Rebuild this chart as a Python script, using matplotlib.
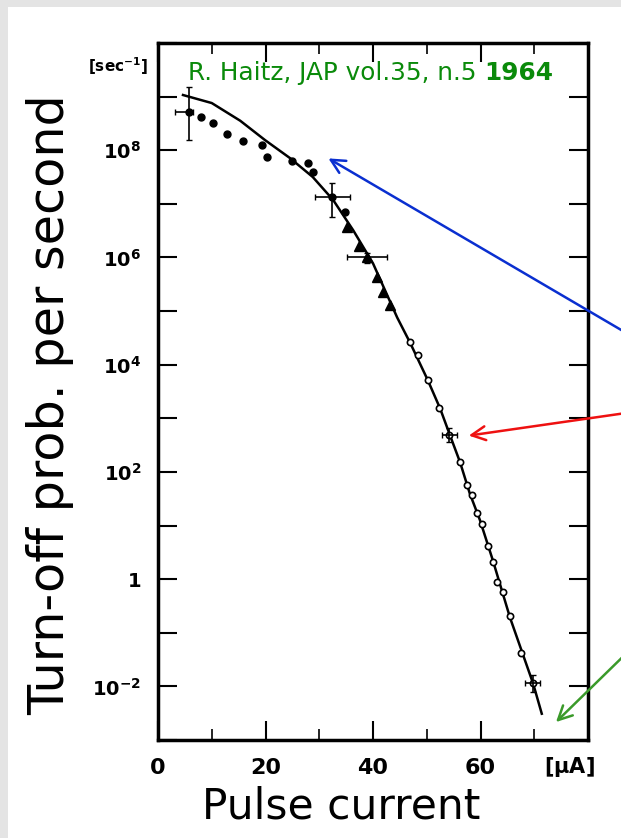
import numpy as np
from matplotlib import pyplot as plt
from matplotlib.patches import Rectangle

# theory curve (log10 of rate)
curve_x = [4.65, 10.0, 15.3, 19.9, 24.6, 28.8, 32.6, 36.3, 40.0, 44.5, 46.9,
           50.2, 52.5, 54.3, 56.2, 58.0, 59.9, 62.3, 65.5, 69.8, 71.4]
curve_log = [9.03, 8.88, 8.55, 8.19, 7.85, 7.50, 7.07, 6.51, 5.89, 4.88, 4.41,
             3.71, 3.18, 2.69, 2.18, 1.60, 1.10, 0.35, -0.72, -1.95, -2.51]

# measured points
dots_x = [5.8, 8.0, 10.2, 12.8, 15.8, 19.3, 20.3, 25.0, 27.9, 28.8, 32.4, 34.8]
dots_log = [8.71, 8.62, 8.51, 8.30, 8.17, 8.10, 7.87, 7.80, 7.76, 7.59, 7.13, 6.85]

tri_x = [35.2, 37.4, 38.9, 40.7, 41.9, 43.2]
tri_log = [6.57, 6.21, 6.01, 5.63, 5.35, 5.11]

open_x = [46.9, 48.4, 50.2, 52.3, 54.1, 56.2, 57.5, 58.4, 59.3, 60.3, 61.4,
          62.3, 63.1, 64.2, 65.5, 67.5, 69.8]
open_log = [4.42, 4.18, 3.71, 3.19, 2.69, 2.18, 1.75, 1.57, 1.23, 1.03, 0.62,
            0.32, -0.06, -0.24, -0.69, -1.38, -1.94]

# error crosses: centre, x range, log y range
err_x = [5.8, 32.4, 38.9, 54.1, 69.8]
err_log = [8.71, 7.13, 6.01, 2.69, -1.94]
err_xlo = [3.2, 29.2, 35.2, 52.8, 68.3]
err_xhi = [6.5, 35.7, 42.6, 55.6, 71.1]
err_loglo = [8.19, 6.75, 5.90, 2.56, -2.11]
err_loghi = [9.18, 7.39, 6.08, 2.82, -1.79]

fig = plt.figure(figsize=(6.21, 8.38), dpi=100, facecolor='#e4e4e4')
fig.patches.append(Rectangle((8 / 621, 0), 1, 831 / 838, transform=fig.transFigure,
                             facecolor='white', edgecolor='none', zorder=-10))
ax = fig.add_axes([158 / 621, 98 / 838, 430 / 621, 697 / 838])
ax.set_zorder(1)

ax.plot(curve_x, 10 ** np.array(curve_log), color='black', lw=1.8)
ax.plot(dots_x, 10 ** np.array(dots_log), 'o', color='black', ms=5)
ax.plot(tri_x, 10 ** np.array(tri_log), '^', color='black', ms=6.5)
ax.plot(open_x, 10 ** np.array(open_log), 'o', mfc='white', mec='black', ms=4.5, mew=1.2)

ey = 10 ** np.array(err_log)
ax.errorbar(err_x, ey,
            xerr=[np.array(err_x) - np.array(err_xlo), np.array(err_xhi) - np.array(err_x)],
            yerr=[ey - 10 ** np.array(err_loglo), 10 ** np.array(err_loghi) - ey],
            fmt='none', ecolor='black', elinewidth=1.2, capsize=2)

ax.set_yscale('log')
ax.set_xlim(0, 80)
ax.set_ylim(1e-3, 1e10)

for s in ax.spines.values():
    s.set_linewidth(2.5)

ax.set_xticks([0, 20, 40, 60])
ax.set_xticks([10, 30, 50, 70], minor=True)
ax.set_xticklabels(['0', '20', '40', '60'], fontsize=16, fontweight='bold')
ax.set_yticks([10.0 ** k for k in range(-3, 11)])
ax.yaxis.set_minor_locator(plt.NullLocator())
ylabels = {8: r'$\mathbf{10^{8}}$', 6: r'$\mathbf{10^{6}}$', 4: r'$\mathbf{10^{4}}$',
           2: r'$\mathbf{10^{2}}$', 0: r'$\mathbf{1}$', -2: r'$\mathbf{10^{-2}}$'}
ax.set_yticklabels([ylabels.get(k, '') for k in range(-3, 11)], fontsize=14)
ax.tick_params(axis='both', which='major', direction='in', length=14, width=1.5,
               top=True, right=True)
ax.tick_params(axis='x', which='major', pad=13)
ax.tick_params(axis='y', which='major', pad=12)
ax.tick_params(axis='x', which='minor', direction='in', length=8, width=1.2, top=True)

fig.text(569 / 621, 1 - 767 / 838, r'$\mathbf{[\mu A]}$', ha='center', va='center', fontsize=15)
fig.text(118 / 621, 1 - 66 / 838, r'$\mathbf{[sec^{-1}]}$', ha='center', va='center', fontsize=11)

t1 = fig.text(188 / 621, 1 - 73 / 838, 'R. Haitz, JAP vol.35, n.5 ',
              color='#0a8a0a', fontsize=17.8, va='center', ha='left', zorder=6)
fig.add_artist(plt.Annotation('1964', xy=(1, 0.5), xycoords=t1, va='center', ha='left',
                              color='#0a8a0a', fontsize=17.8, fontweight='bold', zorder=6))

fig.text(50 / 621, 1 - 405 / 838, 'Turn-off prob. per second', rotation=90,
         ha='center', va='center', fontsize=35.5)
fig.text(341 / 621, 1 - 806 / 838, 'Pulse current', ha='center', va='center', fontsize=30.5)

# arrows (figure pixels, origin bottom left)
H = 838
for tail, head, col in [((640, H - 341), (326, H - 157), '#0a2fd0'),
                        ((640, H - 411), (466, H - 436), '#ee1111'),
                        ((640, H - 640), (554, H - 724), '#3a9a2a')]:
    fig.add_artist(plt.Annotation('', xy=head, xytext=tail, xycoords='figure pixels',
                                  textcoords='figure pixels', annotation_clip=False,
                                  zorder=5,
                                  arrowprops=dict(arrowstyle='->', color=col, lw=1.8,
                                                  mutation_scale=25)))

fig.savefig('out.png', dpi=100, facecolor=fig.get_facecolor())
